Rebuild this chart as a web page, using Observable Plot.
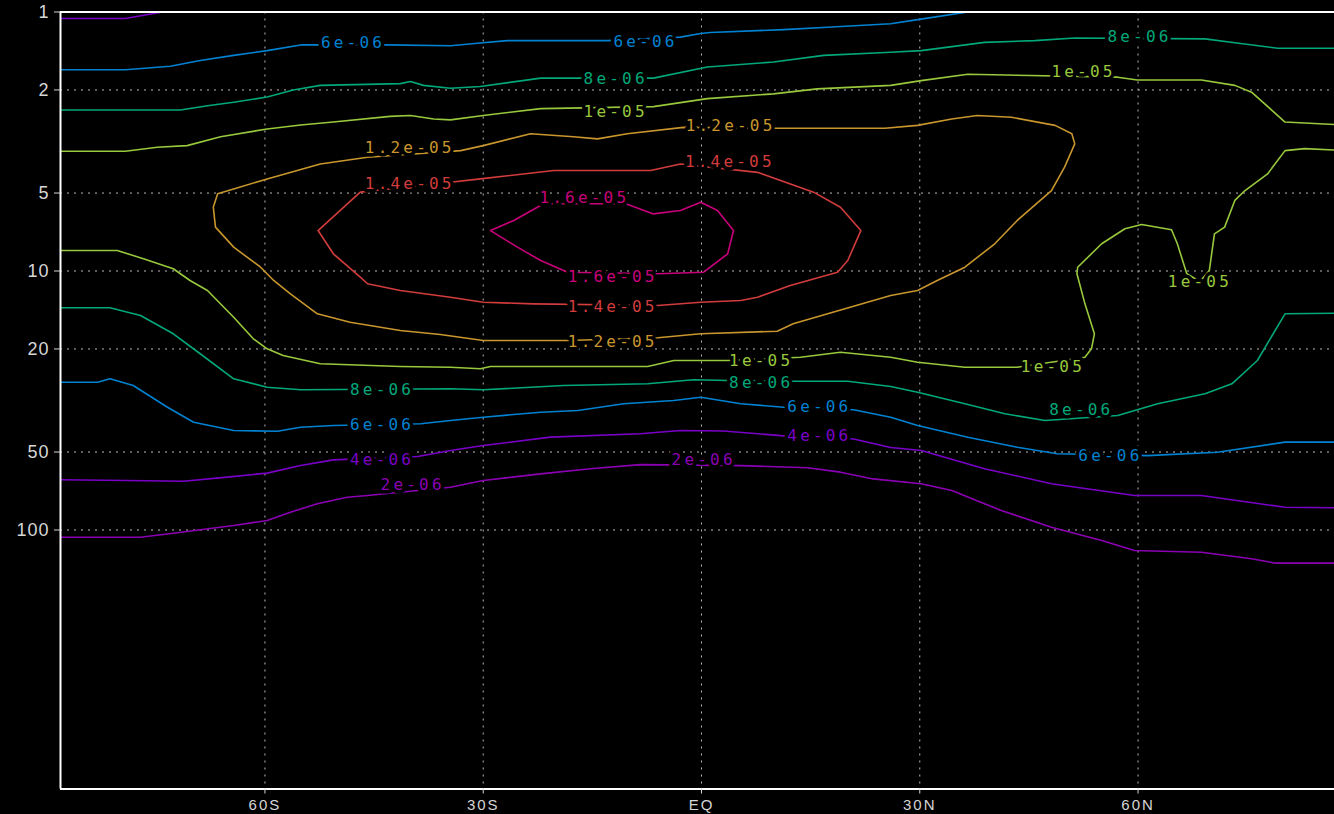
<!DOCTYPE html>
<html>
<head>
<meta charset="utf-8">
<script src="https://cdn.jsdelivr.net/npm/d3@7"></script>
<script src="https://cdn.jsdelivr.net/npm/@observablehq/plot@0.6"></script>
<style>
  html, body { margin: 0; padding: 0; background: #000; overflow: hidden; }
</style>
</head>
<body>
<div id="chart"></div>
<script>
// Contour levels and their colours
const levels = ["2e-06", "4e-06", "6e-06", "8e-06", "1e-05", "1.2e-05", "1.4e-05", "1.6e-05"];
const levelColors = ["#8c00b4", "#7a00c8", "#0082d2", "#00a87a", "#98c83c", "#c8962d", "#d23c3c", "#c8007a"];

// Axis ticks
const latTicks = [-60, -30, 0, 30, 60];
const latTickLabels = ["60S", "30S", "EQ", "30N", "60N"];
const presTicks = [1, 2, 5, 10, 20, 50, 100];
const presGrid = [2, 5, 10, 20, 50, 100];
const latDomain = [-88.1, 87.0];
const presDomain = [1000, 1];

// Contour lines: [latitude, pressure (hPa)]
const c4e6Top = [[-88.1,1.06],[-79.2,1.06],[-74.1,1.0]];
const c6e6Top = [[-88.1,1.67],[-79.2,1.67],[-73.0,1.62],[-68.9,1.54],[-64.3,1.47],[-59.7,1.41],[-55.1,1.34],[-43.2,1.34],[-34.5,1.35],[-30.8,1.32],[-26.7,1.29],[-12.9,1.29],[-2.9,1.25],[-0.1,1.21],[1.2,1.20],[11.3,1.17],[17.3,1.145],[26.0,1.11],[29.7,1.07],[36.6,1.0]];
const c8e6Top = [[-88.1,2.39],[-71.6,2.39],[-67.9,2.30],[-64.3,2.23],[-59.7,2.13],[-56.1,2.0],[-52.4,1.92],[-41.4,1.89],[-40.0,1.855],[-38.2,1.92],[-34.5,1.97],[-30.4,1.94],[-22.1,1.80],[-6.6,1.80],[0.8,1.63],[9.9,1.56],[16.8,1.47],[26.0,1.43],[30.2,1.41],[38.9,1.31],[45.8,1.29],[51.3,1.26],[69.2,1.27],[73.3,1.315],[79.2,1.38],[87.0,1.38]];
const c1e5Top = [[-88.1,3.45],[-79.2,3.45],[-74.8,3.33],[-70.7,3.28],[-66.1,3.03],[-59.7,2.83],[-55.1,2.73],[-50.6,2.66],[-42.8,2.53],[-40.0,2.51],[-36.8,2.59],[-34.5,2.61],[-30.0,2.51],[-22.1,2.36],[-6.6,2.32],[0.8,2.16],[9.9,2.07],[15.9,1.98],[26.0,1.92],[30.2,1.84],[36.6,1.74],[57.2,1.785],[59.9,1.83],[68.7,1.83],[73.3,1.92],[75.6,2.04],[80.2,2.66],[87.0,2.72]];
const c12e6Loop = [[-45.9,3.64],[-52.4,3.86],[-59.7,4.41],[-64.3,4.82],[-66.5,5.03],[-67.1,5.67],[-66.8,6.77],[-64.3,8.09],[-60.6,9.67],[-58.8,10.88],[-56.5,12.25],[-52.8,14.63],[-48.3,15.77],[-41.4,16.97],[-35.9,17.59],[-30.0,18.55],[-18.4,18.55],[-6.0,18.11],[-0.1,17.48],[10.4,17.08],[12.6,15.99],[26.0,12.43],[29.7,11.89],[32.4,10.88],[36.2,9.67],[40.3,7.85],[43.4,6.38],[48.1,4.89],[49.9,3.97],[51.3,3.23],[50.9,2.95],[48.6,2.74],[42.6,2.55],[37.9,2.51],[34.4,2.59],[29.7,2.74],[25.2,2.81],[10.4,2.81],[-2.5,2.79],[-10.2,2.95],[-14.3,3.09],[-17.6,3.03],[-23.5,2.95],[-30.0,3.28],[-33.1,3.43],[-45.9,3.64]];
const c14e6Loop = [[-46.9,4.96],[-52.7,6.98],[-50.6,8.58],[-46.9,10.56],[-45.9,11.2],[-41.4,11.89],[-34.5,12.63],[-30.0,13.2],[-23.1,13.39],[-6.0,13.59],[-0.1,13.2],[5.4,13.0],[7.7,12.63],[12.2,11.38],[18.7,10.11],[20.1,9.11],[21.9,6.98],[19.1,5.67],[15.4,4.96],[7.7,4.16],[-2.9,3.86],[-7.0,4.09],[-20.3,4.09],[-30.4,4.41],[-34.5,4.54],[-46.9,4.96]];
const c16e6Loop = [[-10.4,5.50],[-6.6,6.02],[-2.9,5.84],[-0.1,5.43],[2.2,5.84],[4.4,6.98],[3.6,8.58],[0.3,10.11],[-6.0,10.25],[-18.4,10.11],[-22.1,9.11],[-25.3,8.09],[-29.0,6.98],[-25.8,6.38],[-21.7,5.50],[-10.4,5.50]];
const c1e5Bot = [[-88.1,8.33],[-80.3,8.33],[-76.7,8.97],[-72.6,9.80],[-70.3,10.88],[-67.9,11.89],[-64.3,15.08],[-61.6,18.27],[-59.7,19.97],[-57.5,21.2],[-52.4,22.82],[-41.4,23.37],[-34.5,23.52],[-30.4,23.86],[-29.0,23.37],[-7.4,23.37],[-3.8,22.16],[3.6,22.16],[13.6,21.52],[19.1,20.58],[26.0,21.52],[29.7,22.5],[36.2,23.52],[43.4,23.52],[52.7,21.52],[53.6,19.97],[54.0,17.48],[52.7,13.39],[51.6,10.25],[51.7,9.67],[55.0,7.85],[58.2,6.87],[60.5,6.61],[64.6,6.93],[65.4,7.85],[66.7,10.25],[68.5,10.98],[69.8,9.95],[70.5,7.19],[71.9,6.77],[73.3,5.34],[74.7,4.89],[77.8,4.22],[80.2,3.43],[82.9,3.37],[87.0,3.41]];
const c8e6Bot = [[-88.1,13.87],[-81.3,13.87],[-77.1,14.85],[-72.6,17.48],[-68.9,20.87],[-64.3,26.08],[-59.7,28.09],[-55.1,28.75],[-34.5,28.5],[-30.0,28.75],[-19.0,27.68],[-7.4,27.26],[-1.1,26.31],[3.6,26.47],[12.6,26.64],[20.1,26.64],[26.0,27.92],[29.7,29.38],[36.2,32.57],[41.7,35.6],[47.2,37.78],[57.2,36.14],[62.7,32.57],[69.2,29.79],[72.9,27.26],[76.4,22.16],[80.2,14.63],[87.0,14.55]];
const c6e6Bot = [[-88.1,26.88],[-83.0,26.88],[-81.3,26.08],[-78.1,27.68],[-73.4,33.57],[-69.8,38.36],[-64.3,41.29],[-58.3,41.55],[-55.1,40.11],[-50.6,39.51],[-38.6,38.9],[-34.5,37.78],[-30.0,36.69],[-22.1,35.1],[-17.0,34.57],[-10.7,32.57],[-3.8,31.62],[-0.1,30.72],[5.4,32.57],[11.3,33.57],[20.9,34.35],[26.0,36.69],[29.7,39.51],[36.6,43.83],[43.4,47.9],[48.9,50.8],[61.3,51.6],[70.9,50.1],[80.2,45.8],[87.0,45.8]];
const c4e6Bot = [[-88.1,64.0],[-78.9,64.4],[-71.2,64.8],[-65.2,62.5],[-59.7,60.3],[-55.1,56.4],[-50.6,53.6],[-39.0,52.0],[-34.5,49.3],[-30.0,47.2],[-20.8,43.8],[-8.4,42.5],[-2.9,41.3],[3.0,41.5],[10.9,43.2],[20.9,44.5],[26.0,48.0],[30.2,49.3],[38.9,58.0],[48.1,66.3],[59.5,73.6],[68.7,73.6],[80.2,81.7],[87.0,82.1]];
const c2e6 = [[-88.1,106.6],[-77.1,106.6],[-72.6,102.9],[-64.3,96.1],[-59.7,91.9],[-56.5,85.4],[-52.8,79.2],[-48.7,74.7],[-45.9,73.6],[-34.5,68.4],[-30.0,64.4],[-22.1,60.7],[-15.3,58.0],[-8.4,55.9],[5.4,56.4],[14.6,57.5],[19.1,59.8],[23.6,63.5],[30.2,66.3],[34.4,70.4],[41.2,84.1],[48.1,97.5],[55.0,109.8],[59.5,120.0],[68.7,121.8],[75.6,129.2],[78.9,134.3],[87.0,134.3]];

// Contour labels: [level, latitude, pressure]
const contourLabels = [
  ["6e-06",-47.9,1.32],["6e-06",-7.7,1.31],
  ["8e-06",-11.8,1.81],["8e-06",60.2,1.25],
  ["1e-05",-11.8,2.42],["1e-05",52.5,1.71],
  ["1.2e-05",-40.1,3.34],["1.2e-05",4.0,2.74],["1.2e-05",-12.2,18.7],
  ["1.4e-05",-40.1,4.60],["1.4e-05",3.9,3.78],["1.4e-05",-12.2,13.7],
  ["1.6e-05",-16.1,5.20],["1.6e-05",-12.2,10.5],
  ["1e-05",8.2,22.2],["1e-05",48.3,23.4],["1e-05",68.5,10.98],
  ["8e-06",-43.9,28.7],["8e-06",8.2,27.0],["8e-06",52.2,34.4],
  ["6e-06",-43.9,39.2],["6e-06",16.2,33.4],["6e-06",56.2,51.6],
  ["4e-06",-43.9,53.4],["4e-06",16.2,43.5],
  ["2e-06",-39.7,67.0],["2e-06",0.3,53.7]
];

const contours = [
  {level:"4e-06", pts:c4e6Top}, {level:"6e-06", pts:c6e6Top}, {level:"8e-06", pts:c8e6Top},
  {level:"1e-05", pts:c1e5Top}, {level:"1.2e-05", pts:c12e6Loop}, {level:"1.4e-05", pts:c14e6Loop},
  {level:"1.6e-05", pts:c16e6Loop}, {level:"1e-05", pts:c1e5Bot}, {level:"8e-06", pts:c8e6Bot},
  {level:"6e-06", pts:c6e6Bot}, {level:"4e-06", pts:c4e6Bot}, {level:"2e-06", pts:c2e6}
];
const lineRows = contours.flatMap((c, i) => c.pts.map(([lat, p]) => ({id: i, level: c.level, lat, p})));
const labelRows = contourLabels.map(([level, lat, p]) => ({level, lat, p}));

const chart = Plot.plot({
  width: 1334,
  height: 814,
  marginLeft: 60,
  marginRight: 0,
  marginTop: 11.5,
  marginBottom: 25.5,
  style: {background: "#000", color: "#d6d6d6", fontFamily: "'Liberation Sans', sans-serif"},
  x: {domain: latDomain, axis: null, label: null},
  y: {type: "log", domain: presDomain, axis: null, label: null},
  color: {domain: levels, range: levelColors},
  marks: [
    Plot.ruleX(latTicks, {stroke: "#b8b8b8", strokeDasharray: "2,5", strokeWidth: 1}),
    Plot.ruleY(presGrid, {stroke: "#b8b8b8", strokeDasharray: "2,5", strokeWidth: 1}),
    Plot.line(lineRows, {x: "lat", y: "p", z: "id", stroke: "level", strokeWidth: 1.6}),
    Plot.text(labelRows, {x: "lat", y: "p", text: "level", fill: "level", stroke: "#000", strokeWidth: 7,
      fontSize: 16, fontFamily: "'DejaVu Sans Mono', monospace"}),
    Plot.ruleX([latDomain[0]], {stroke: "#fff", strokeWidth: 2}),
    Plot.ruleY([presDomain[0], presDomain[1]], {stroke: "#fff", strokeWidth: 2}),
    Plot.axisY(presTicks, {tickFormat: d => String(d), tickSize: 6, tickPadding: 5, fontSize: 18, label: null}),
    Plot.axisX(latTicks, {tickFormat: d => latTickLabels[latTicks.indexOf(d)], tickSize: 5, tickPadding: 5, fontSize: 15, label: null})
  ]
});
// letter spacing for the stroke-font look
chart.querySelectorAll("g").forEach(g => {
  const ff = g.getAttribute("font-family") || "";
  const fs = g.getAttribute("font-size");
  if (ff.includes("Mono")) g.setAttribute("letter-spacing", "3.2px");
  else if (fs === "15") g.setAttribute("letter-spacing", "2px");
  else if (fs === "18") g.setAttribute("letter-spacing", "1px");
});
document.getElementById("chart").appendChild(chart);
</script>
</body>
</html>
